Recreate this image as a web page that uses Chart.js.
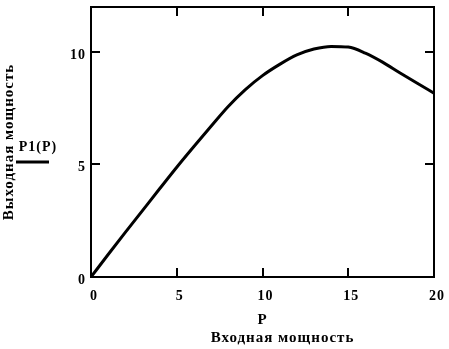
<!DOCTYPE html>
<html>
<head>
<meta charset="utf-8">
<script src="https://cdn.jsdelivr.net/npm/chart.js@4/dist/chart.umd.min.js"></script>
<style>
html,body{margin:0;padding:0;background:#fff;}
#wrap{width:449px;height:349px;}
</style>
</head>
<body>
<div id="wrap"><canvas id="c" width="449" height="349"></canvas></div>
<script>
const inputPower = [0,1,2,3,4,5,6,7,8,9,10,11,12,13,14,15,16,17,18,19,20];
const outputPower = [0,1.0,1.98,2.95,3.92,4.88,5.8,6.7,7.58,8.33,8.95,9.45,9.87,10.13,10.25,10.22,9.95,9.55,9.08,8.62,8.17];
const xTicks = [0,5,10,15,20];
const yTicks = [0,5,10];
const seriesLabel = 'P1(P)';
const xVarLabel = 'P';
const xTitle = 'Входная мощность';
const yTitle = 'Выходная мощность';

const FONT = "'Liberation Serif','Times New Roman',serif";

function noPad(s) { s.paddingTop = 0; s.paddingBottom = 0; s.paddingLeft = 0; s.paddingRight = 0; }

const framePlugin = {
  id: 'frame',
  beforeUpdate(chart) { chart.ctx.letterSpacing = '1px'; },
  beforeDraw(chart) { chart.ctx.letterSpacing = '1px'; },
  afterDatasetsDraw(chart) {
    const {ctx, chartArea: a, scales} = chart;
    ctx.save();
    ctx.strokeStyle = '#000';
    ctx.lineWidth = 2;
    ctx.strokeRect(a.left, a.top, a.right - a.left, a.bottom - a.top);
    const L = 9;
    ctx.beginPath();
    xTicks.forEach(v => {
      const px = Math.round(scales.x.getPixelForValue(v));
      ctx.moveTo(px, a.bottom); ctx.lineTo(px, a.bottom - L);
      ctx.moveTo(px, a.top); ctx.lineTo(px, a.top + L);
    });
    yTicks.forEach(v => {
      const py = Math.round(scales.y.getPixelForValue(v));
      ctx.moveTo(a.left, py); ctx.lineTo(a.left + L, py);
      ctx.moveTo(a.right, py); ctx.lineTo(a.right - L, py);
    });
    ctx.stroke();
    ctx.fillStyle = '#000';
    ctx.textAlign = 'center';
    ctx.textBaseline = 'middle';
    ctx.letterSpacing = '1px';
    // legend entry
    ctx.font = "bold 14px " + FONT;
    ctx.fillText(chart.data.datasets[0].label, 38, 147);
    ctx.lineWidth = 3;
    ctx.beginPath();
    ctx.moveTo(16, 162); ctx.lineTo(49, 162);
    ctx.stroke();
    // x axis caption (second line under the variable name)
    ctx.font = "bold 15px " + FONT;
    ctx.fillText(xTitle, (a.left + a.right) / 2 + 20, 338);
    ctx.restore();
  }
};

new Chart(document.getElementById('c'), {
  type: 'line',
  data: {
    datasets: [{
      label: seriesLabel,
      data: inputPower.map((p, i) => ({x: p, y: outputPower[i]})),
      borderColor: '#000',
      borderWidth: 3,
      pointRadius: 0,
      fill: false,
      cubicInterpolationMode: 'monotone'
    }]
  },
  options: {
    responsive: false,
    animation: false,
    layout: {padding: {top: 7, right: 15, left: 0, bottom: 0}},
    plugins: {legend: {display: false}, tooltip: {enabled: false}},
    scales: {
      x: {
        type: 'linear', min: 0, max: 20,
        afterFit(s) { s.height = 72; noPad(s); },
        afterBuildTicks(s) { s.ticks = xTicks.map(v => ({value: v})); },
        grid: {display: false, drawTicks: false},
        border: {display: false},
        ticks: {color: '#000', font: {family: FONT, size: 14, weight: 'bold'}, padding: 11, labelOffset: 3, maxRotation: 0, autoSkip: false},
        title: {display: true, text: xVarLabel, color: '#000', font: {family: FONT, size: 15, weight: 'bold'}, padding: {top: 0, bottom: 20}}
      },
      y: {
        type: 'linear', min: 0, max: 12,
        afterFit(s) { s.width = 91; noPad(s); },
        afterBuildTicks(s) { s.ticks = yTicks.map(v => ({value: v})); },
        grid: {display: false, drawTicks: false},
        border: {display: false},
        ticks: {color: '#000', font: {family: FONT, size: 14, weight: 'bold'}, padding: 5, labelOffset: 3, autoSkip: false},
        title: {display: true, text: yTitle, color: '#000', font: {family: FONT, size: 15, weight: 'bold'}, padding: {top: 0, bottom: 0}}
      }
    }
  },
  plugins: [framePlugin]
});
</script>
</body>
</html>
